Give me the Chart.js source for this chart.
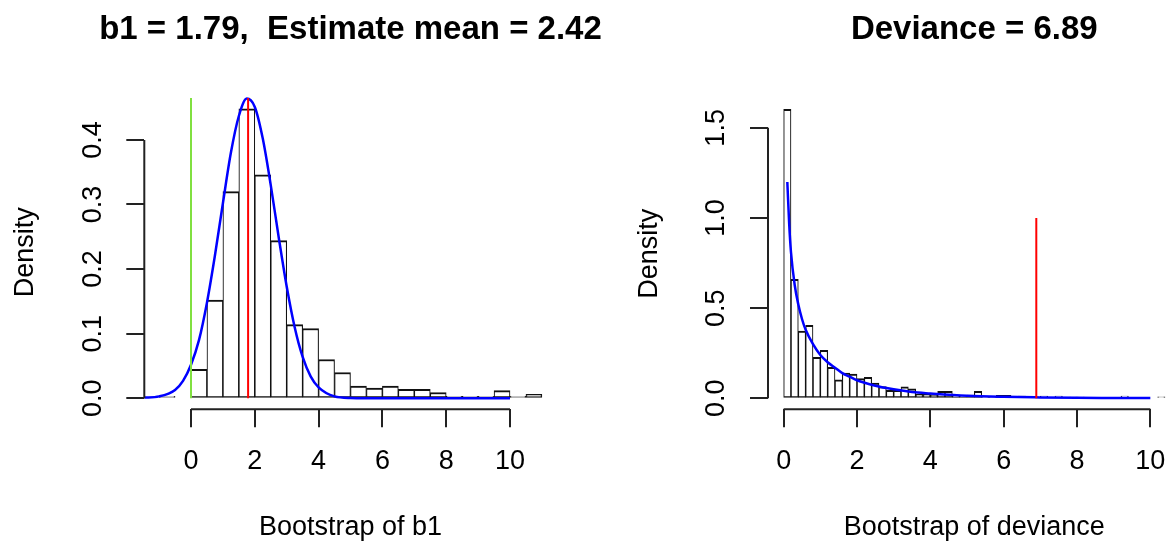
<!DOCTYPE html>
<html>
<head>
<meta charset="utf-8">
<script src="https://cdn.jsdelivr.net/npm/chart.js@4.4.0/dist/chart.umd.min.js"></script>
<style>
  html, body { margin: 0; padding: 0; background: #fff; overflow: hidden; }
  body { width: 1170px; height: 544px; position: relative; }
  canvas { position: absolute; top: 0; }
  #left { left: 0; }
  #right { left: 624px; }
</style>
</head>
<body>
<canvas id="left" width="624" height="544"></canvas>
<canvas id="right" width="560" height="544"></canvas>
<script>
// left panel: bootstrap of b1, bins of width 0.5
var b1Mids = [-0.75, -0.25, 0.25, 0.75, 1.25, 1.75, 2.25, 2.75, 3.25, 3.75, 4.25, 4.75,
              5.25, 5.75, 6.25, 6.75, 7.25, 7.75, 8.25, 8.75, 9.25, 9.75, 10.25, 10.75];
var b1Density = [0.003, 0, 0.045, 0.152, 0.320, 0.448, 0.346, 0.244, 0.114, 0.108, 0.060, 0.040,
                 0.019, 0.016, 0.019, 0.014, 0.014, 0.009, 0.003, 0.003, 0.003, 0.012, 0.003, 0.006];
// fitted curve
var b1CurveX = [-1.5, -1, -0.5, -0.25, 0, 0.25, 0.5, 0.75, 1, 1.25, 1.5, 1.75, 2, 2.25, 2.5,
                2.75, 3, 3.25, 3.5, 3.75, 4, 4.5, 5, 6, 8, 10];
var b1CurveY = [0.001, 0.003, 0.013, 0.027, 0.052, 0.090, 0.148, 0.221, 0.302, 0.380, 0.437, 0.464,
                0.451, 0.402, 0.330, 0.249, 0.173, 0.110, 0.064, 0.034, 0.017, 0.003, 0.0005, 0, 0, 0];
var b1Estimate = 1.79;
var b1Zero = 0;
var b1LineTop = 0.465;
var b1XTicks = [0, 2, 4, 6, 8, 10];
var b1YTicks = ['0.0', '0.1', '0.2', '0.3', '0.4'];

// right panel: bootstrap of deviance, bins of width 0.2
var devMids = [0.1, 0.3, 0.5, 0.7, 0.9, 1.1, 1.3, 1.5, 1.7, 1.9, 2.1, 2.3, 2.5, 2.7, 2.9,
               3.1, 3.3, 3.5, 3.7, 3.9, 4.1, 4.3, 4.5, 4.7, 4.9, 5.1, 5.3, 5.5, 5.7, 5.9,
               6.1, 6.3, 6.5, 6.7, 6.9, 7.1, 7.3, 7.5, 7.7, 7.9, 8.1, 8.3, 8.5, 8.7, 8.9,
               9.1, 9.3, 9.5, 9.7, 9.9, 10.1, 10.3];
var devDensity = [1.603, 0.660, 0.373, 0.405, 0.227, 0.266, 0.172, 0.102, 0.140, 0.135,
                  0.109, 0.116, 0.085, 0.065, 0.044, 0.044, 0.063, 0.052, 0.022, 0.022,
                  0.020, 0.039, 0.039, 0.018, 0.015, 0.018, 0.039, 0.007, 0.007, 0.017,
                  0.017, 0.007, 0.013, 0.007, 0.004, 0.013, 0.004, 0.013, 0.004, 0.007,
                  0.007, 0.004, 0.004, 0.004, 0.004, 0.004, 0.013, 0, 0, 0, 0, 0.008];
var devCurveX = [0.1, 0.15, 0.2, 0.3, 0.4, 0.5, 0.6, 0.8, 1, 1.2, 1.4, 1.6, 1.8, 2, 2.5,
                 3, 3.5, 4, 5, 6, 7, 8, 9, 10];
var devCurveY = [1.20, 0.97, 0.81, 0.63, 0.52, 0.44, 0.38, 0.30, 0.24, 0.20, 0.17, 0.14, 0.12,
                 0.10, 0.07, 0.05, 0.035, 0.027, 0.014, 0.008, 0.005, 0.003, 0.002, 0.001];
var devObserved = 6.89;
var devLineTop = 1.0;
var devXTicks = [0, 2, 4, 6, 8, 10];
var devYTicks = ['0.0', '0.5', '1.0', '1.5'];

var FONT = '"Liberation Sans", Arial, Helvetica, sans-serif';

function pairs(xs, ys) {
  return xs.map(function(x, i) { return {x: x, y: ys[i]}; });
}

// R style axes: line only over the tick range, rotated y labels, bold title
var rAxes = {
  id: 'rAxes',
  afterDraw: function(chart, args, o) {
    var ctx = chart.ctx, a = chart.chartArea;
    var sx = chart.scales.x, sy = chart.scales.y;
    var yv = o.yLabels.map(parseFloat);
    ctx.save();
    ctx.strokeStyle = '#222';
    ctx.lineWidth = 2;
    ctx.beginPath();
    ctx.moveTo(sx.getPixelForValue(o.xTicks[0]), a.bottom);
    ctx.lineTo(sx.getPixelForValue(o.xTicks[o.xTicks.length - 1]), a.bottom);
    ctx.moveTo(a.left, sy.getPixelForValue(yv[0]));
    ctx.lineTo(a.left, sy.getPixelForValue(yv[yv.length - 1]));
    ctx.stroke();

    ctx.fillStyle = '#000';
    ctx.textAlign = 'center';
    ctx.textBaseline = 'middle';
    ctx.font = '27px ' + FONT;
    o.yLabels.forEach(function(t, i) {
      ctx.save();
      ctx.translate(a.left - 51, sy.getPixelForValue(yv[i]));
      ctx.rotate(-Math.PI / 2);
      ctx.fillText(t, 0, 0);
      ctx.restore();
    });

    ctx.font = 'bold 33px ' + FONT;
    ctx.fillText(o.title, (a.left + a.right) / 2, 30);
    ctx.restore();
  }
};

function vline(x, top, color, order) {
  return {
    type: 'line', data: [{x: x, y: 0}, {x: x, y: top}],
    borderColor: color, borderWidth: 2, pointRadius: 0, tension: 0, order: order
  };
}

function makeChart(id, p) {
  var datasets = [
    {
      type: 'bar', data: pairs(p.mids, p.density),
      backgroundColor: '#fff', borderColor: '#111',
      borderWidth: { top: 2, left: 1.1, right: 1.1, bottom: 1.5 },
      borderSkipped: false, barPercentage: 1, categoryPercentage: 1, order: 4
    },
    {
      type: 'line', data: pairs(p.curveX, p.curveY),
      borderColor: '#0000ff', borderWidth: 2.5, pointRadius: 0,
      cubicInterpolationMode: 'monotone', order: 3
    }
  ].concat(p.lines);

  return new Chart(document.getElementById(id), {
    type: 'bar',
    data: { datasets: datasets },
    options: {
      responsive: false,
      animation: false,
      devicePixelRatio: 1,
      layout: { padding: { left: 0, right: p.padRight, top: p.padTop, bottom: 0 } },
      plugins: {
        legend: { display: false },
        tooltip: { enabled: false },
        rAxes: { title: p.title, xTicks: p.xTicks, yLabels: p.yLabels }
      },
      scales: {
        x: {
          type: 'linear', min: p.xMin, max: p.xMax, offset: false,
          afterBuildTicks: function(s) { s.ticks = p.xTicks.map(function(v) { return {value: v}; }); },
          afterFit: function(s) { s.height = 134.7; },
          grid: { offset: false, drawOnChartArea: false, drawTicks: true, tickLength: 18, color: '#222', lineWidth: 2 },
          border: { display: false },
          ticks: {
            color: '#000', font: { family: FONT, size: 27 }, padding: 18.5,
            maxRotation: 0, autoSkip: false,
            callback: function(v) { return String(v); }
          },
          title: { display: true, text: p.xTitle, color: '#000', font: { family: FONT, size: 27 }, padding: { top: 0, bottom: 0 } }
        },
        y: {
          type: 'linear', min: p.yMin, max: p.yMax,
          afterBuildTicks: function(s) { s.ticks = p.yLabels.map(function(t) { return {value: parseFloat(t)}; }); },
          afterFit: function(s) { s.width = p.yWidth; },
          grid: { drawOnChartArea: false, drawTicks: true, tickLength: 18, color: '#222', lineWidth: 2 },
          border: { display: false },
          ticks: { display: false },
          title: { display: true, text: 'Density', color: '#000', font: { family: FONT, size: 27 }, padding: { top: 9, bottom: 0 } }
        }
      }
    },
    plugins: [rAxes]
  });
}

makeChart('left', {
  mids: b1Mids, density: b1Density, curveX: b1CurveX, curveY: b1CurveY,
  lines: [vline(b1Estimate, b1LineTop, '#ff0000', 1), vline(b1Zero, b1LineTop, '#80e040', 0)],
  title: 'b1 = 1.79,  Estimate mean = 2.42', xTitle: 'Bootstrap of b1',
  xTicks: b1XTicks, yLabels: b1YTicks,
  xMin: -1.464, xMax: 11.464, yMin: -0.01703, yMax: 0.4695,
  padTop: 95, padRight: 67.3, yWidth: 144.3
});

makeChart('right', {
  mids: devMids, density: devDensity, curveX: devCurveX, curveY: devCurveY,
  lines: [vline(devObserved, devLineTop, '#ff0000', 1)],
  title: 'Deviance = 6.89', xTitle: 'Bootstrap of deviance',
  xTicks: devXTicks, yLabels: devYTicks,
  xMin: -0.427, xMax: 10.823, yMin: -0.061, yMax: 1.664,
  padTop: 98.3, padRight: 2, yWidth: 144
});
</script>
</body>
</html>
